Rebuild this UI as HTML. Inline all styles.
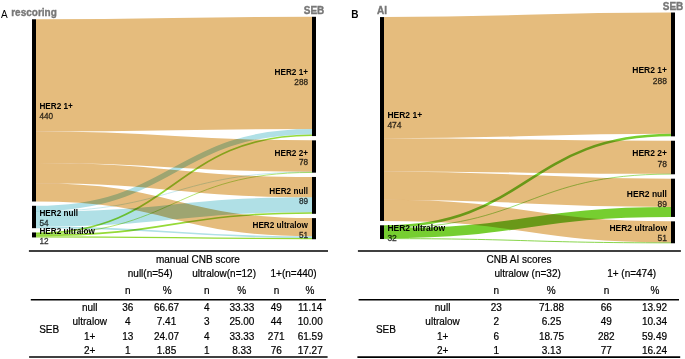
<!DOCTYPE html>
<html><head><meta charset="utf-8"><title>Sankey</title>
<style>
html,body{margin:0;padding:0;background:#fff;}
body{width:685px;height:359px;overflow:hidden;}
svg{display:block;font-family:"Liberation Sans",sans-serif;}
.nm{font-weight:bold;fill:#000;}
.vl{fill:#000;stroke:#000;stroke-width:0.3px;opacity:0.8;}
.tt{font-size:10px;font-weight:bold;fill:#777;stroke:#777;stroke-width:0.35px;}
.pl{font-size:10px;fill:#000;}
.tb{font-size:10px;fill:#000;stroke:#000;stroke-width:0.2px;}
</style></head>
<body>
<svg width="685" height="359" viewBox="0 0 685 359">
<g fill="none">
<path d="M36,75.38C174,75.38 174,72.9 312,72.9" stroke="#E5BC7D" stroke-width="112.25" style="mix-blend-mode:multiply"/>
<path d="M36,147.25C174,147.25 174,156.1 312,156.1" stroke="#E5BC7D" stroke-width="31.48" style="mix-blend-mode:multiply"/>
<path d="M36,173.14C174,173.14 174,187.11 312,187.11" stroke="#E5BC7D" stroke-width="20.3" style="mix-blend-mode:multiply"/>
<path d="M36,192.4C174,192.4 174,227.22 312,227.22" stroke="#E5BC7D" stroke-width="18.22" style="mix-blend-mode:multiply"/>
<path d="M36,208.49C174,208.49 174,131.72 312,131.72" stroke="#B0E0E6" stroke-width="5.38" style="mix-blend-mode:multiply"/>
<path d="M36,211.39C174,211.39 174,172.05 312,172.05" stroke="#B0E0E6" stroke-width="0.7" style="mix-blend-mode:multiply"/>
<path d="M36,219.05C174,219.05 174,204.71 312,204.71" stroke="#B0E0E6" stroke-width="14.91" style="mix-blend-mode:multiply"/>
<path d="M36,227.34C174,227.34 174,237.16 312,237.16" stroke="#B0E0E6" stroke-width="1.66" style="mix-blend-mode:multiply"/>
<path d="M36,233.28C174,233.28 174,135.24 312,135.24" stroke="#96DA37" stroke-width="1.66" style="mix-blend-mode:multiply"/>
<path d="M36,234.32C174,234.32 174,172.46 312,172.46" stroke="#96DA37" stroke-width="0.7" style="mix-blend-mode:multiply"/>
<path d="M36,235.35C174,235.35 174,212.99 312,212.99" stroke="#96DA37" stroke-width="1.66" style="mix-blend-mode:multiply"/>
<path d="M36,236.8C174,236.8 174,238.61 312,238.61" stroke="#96DA37" stroke-width="1.24" style="mix-blend-mode:multiply"/>
</g>
<rect x="32" y="19.26" width="4" height="182.25"/>
<rect x="32" y="205.8" width="4" height="22.37"/>
<rect x="32" y="232.45" width="4" height="4.97"/>
<rect x="312" y="16.78" width="4" height="119.29"/>
<rect x="312" y="140.36" width="4" height="32.31"/>
<rect x="312" y="176.96" width="4" height="36.86"/>
<rect x="312" y="218.11" width="4" height="21.12"/>
<text class="nm" x="39.4" y="109.38" font-size="8.2">HER2 1+</text>
<text class="vl" x="39.4" y="119.28" font-size="8.2">440</text>
<text class="nm" x="39.4" y="215.98" font-size="8.2">HER2 null</text>
<text class="vl" x="39.4" y="225.88" font-size="8.2">54</text>
<text class="nm" x="39.4" y="233.94" font-size="8.2">HER2 ultralow</text>
<text class="vl" x="39.4" y="243.84" font-size="8.2">12</text>
<text class="nm" x="308" y="75.42" font-size="8.2" text-anchor="end">HER2 1+</text>
<text class="vl" x="308" y="85.32" font-size="8.2" text-anchor="end">288</text>
<text class="nm" x="308" y="155.51" font-size="8.2" text-anchor="end">HER2 2+</text>
<text class="vl" x="308" y="165.41" font-size="8.2" text-anchor="end">78</text>
<text class="nm" x="308" y="194.39" font-size="8.2" text-anchor="end">HER2 null</text>
<text class="vl" x="308" y="204.29" font-size="8.2" text-anchor="end">89</text>
<text class="nm" x="308" y="227.67" font-size="8.2" text-anchor="end">HER2 ultralow</text>
<text class="vl" x="308" y="237.57" font-size="8.2" text-anchor="end">51</text>
<text class="tt" x="34" y="16.26" text-anchor="middle">rescoring</text>
<text class="tt" x="314" y="13.78" text-anchor="middle">SEB</text>
<g fill="none">
<path d="M384,77.7C527.5,77.7 527.5,73.15 671,73.15" stroke="#E5BC7D" stroke-width="121.26" style="mix-blend-mode:multiply"/>
<path d="M384,154.89C527.5,154.89 527.5,157.31 671,157.31" stroke="#E5BC7D" stroke-width="33.11" style="mix-blend-mode:multiply"/>
<path d="M384,185.63C527.5,185.63 527.5,192.87 671,192.87" stroke="#E5BC7D" stroke-width="28.38" style="mix-blend-mode:multiply"/>
<path d="M384,210.35C527.5,210.35 527.5,231.88 671,231.88" stroke="#E5BC7D" stroke-width="21.07" style="mix-blend-mode:multiply"/>
<path d="M384,226.57C527.5,226.57 527.5,135.07 671,135.07" stroke="#76CE30" stroke-width="2.58" style="mix-blend-mode:multiply"/>
<path d="M384,228.07C527.5,228.07 527.5,174.08 671,174.08" stroke="#76CE30" stroke-width="0.7" style="mix-blend-mode:multiply"/>
<path d="M384,233.23C527.5,233.23 527.5,212 671,212" stroke="#76CE30" stroke-width="9.89" style="mix-blend-mode:multiply"/>
<path d="M384,238.61C527.5,238.61 527.5,242.84 671,242.84" stroke="#76CE30" stroke-width="0.86" style="mix-blend-mode:multiply"/>
</g>
<rect x="380" y="17.07" width="4" height="203.82"/>
<rect x="380" y="225.28" width="4" height="13.76"/>
<rect x="671" y="12.52" width="4" height="123.84"/>
<rect x="671" y="140.75" width="4" height="33.54"/>
<rect x="671" y="178.68" width="4" height="38.27"/>
<rect x="671" y="221.34" width="4" height="21.93"/>
<text class="nm" x="387.4" y="117.68" font-size="8.5">HER2 1+</text>
<text class="vl" x="387.4" y="128.08" font-size="8.5">474</text>
<text class="nm" x="387.4" y="230.86" font-size="8.5">HER2 ultralow</text>
<text class="vl" x="387.4" y="241.26" font-size="8.5">32</text>
<text class="nm" x="667" y="73.14" font-size="8.5" text-anchor="end">HER2 1+</text>
<text class="vl" x="667" y="83.54" font-size="8.5" text-anchor="end">288</text>
<text class="nm" x="667" y="156.22" font-size="8.5" text-anchor="end">HER2 2+</text>
<text class="vl" x="667" y="166.62" font-size="8.5" text-anchor="end">78</text>
<text class="nm" x="667" y="196.51" font-size="8.5" text-anchor="end">HER2 null</text>
<text class="vl" x="667" y="206.91" font-size="8.5" text-anchor="end">89</text>
<text class="nm" x="667" y="231" font-size="8.5" text-anchor="end">HER2 ultralow</text>
<text class="vl" x="667" y="241.41" font-size="8.5" text-anchor="end">51</text>
<text class="tt" x="382" y="14.07" text-anchor="middle">AI</text>
<text class="tt" x="673" y="9.52" text-anchor="middle">SEB</text>
<text class="pl" x="1" y="18">A</text>
<text class="pl" x="351.2" y="17.8" font-weight="bold" font-size="9.6">B</text>
<g stroke="#000" fill="none">
<line x1="28.9" y1="250.9" x2="328" y2="250.9" stroke-width="1.5"/>
<line x1="30.8" y1="299.8" x2="326" y2="299.8" stroke-width="1.4"/>
<line x1="29.1" y1="357" x2="327.6" y2="357" stroke-width="1.7"/>
<line x1="357.9" y1="250.9" x2="680.9" y2="250.9" stroke-width="1.5"/>
<line x1="358.6" y1="299.8" x2="679" y2="299.8" stroke-width="1.4"/>
<line x1="357.4" y1="357.1" x2="680.2" y2="357.1" stroke-width="1.7"/>
</g>
<text class="tb" x="197.9" y="262.5" text-anchor="middle">manual CNB score</text>
<text class="tb" x="150.15" y="276.6" text-anchor="middle">null(n=54)</text>
<text class="tb" x="224.15" y="276.6" text-anchor="middle">ultralow(n=12)</text>
<text class="tb" x="293.6" y="276.6" text-anchor="middle">1+(n=440)</text>
<text class="tb" x="127.9" y="294.2" text-anchor="middle">n</text>
<text class="tb" x="167.2" y="294.2" text-anchor="middle">%</text>
<text class="tb" x="206.7" y="294.2" text-anchor="middle">n</text>
<text class="tb" x="241.8" y="294.2" text-anchor="middle">%</text>
<text class="tb" x="276.5" y="294.2" text-anchor="middle">n</text>
<text class="tb" x="310" y="294.2" text-anchor="middle">%</text>
<text class="tb" x="49.2" y="333.4" text-anchor="middle">SEB</text>
<text class="tb" x="89.7" y="311.1" text-anchor="middle">null</text>
<text class="tb" x="127.8" y="311.1" text-anchor="middle">36</text>
<text class="tb" x="166.5" y="311.1" text-anchor="middle">66.67</text>
<text class="tb" x="206.7" y="311.1" text-anchor="middle">4</text>
<text class="tb" x="241.9" y="311.1" text-anchor="middle">33.33</text>
<text class="tb" x="276.2" y="311.1" text-anchor="middle">49</text>
<text class="tb" x="310.2" y="311.1" text-anchor="middle">11.14</text>
<text class="tb" x="89.7" y="325.4" text-anchor="middle">ultralow</text>
<text class="tb" x="127.8" y="325.4" text-anchor="middle">4</text>
<text class="tb" x="166.5" y="325.4" text-anchor="middle">7.41</text>
<text class="tb" x="206.7" y="325.4" text-anchor="middle">3</text>
<text class="tb" x="241.9" y="325.4" text-anchor="middle">25.00</text>
<text class="tb" x="276.2" y="325.4" text-anchor="middle">44</text>
<text class="tb" x="310.2" y="325.4" text-anchor="middle">10.00</text>
<text class="tb" x="89.7" y="339.6" text-anchor="middle">1+</text>
<text class="tb" x="127.8" y="339.6" text-anchor="middle">13</text>
<text class="tb" x="166.5" y="339.6" text-anchor="middle">24.07</text>
<text class="tb" x="206.7" y="339.6" text-anchor="middle">4</text>
<text class="tb" x="241.9" y="339.6" text-anchor="middle">33.33</text>
<text class="tb" x="276.2" y="339.6" text-anchor="middle">271</text>
<text class="tb" x="310.2" y="339.6" text-anchor="middle">61.59</text>
<text class="tb" x="89.7" y="353.9" text-anchor="middle">2+</text>
<text class="tb" x="127.8" y="353.9" text-anchor="middle">1</text>
<text class="tb" x="166.5" y="353.9" text-anchor="middle">1.85</text>
<text class="tb" x="206.7" y="353.9" text-anchor="middle">1</text>
<text class="tb" x="241.9" y="353.9" text-anchor="middle">8.33</text>
<text class="tb" x="276.2" y="353.9" text-anchor="middle">76</text>
<text class="tb" x="310.2" y="353.9" text-anchor="middle">17.27</text>
<text class="tb" x="519" y="262.5" text-anchor="middle">CNB AI scores</text>
<text class="tb" x="527.6" y="276.5" text-anchor="middle">ultralow (n=32)</text>
<text class="tb" x="631.6" y="276.5" text-anchor="middle">1+ (n=474)</text>
<text class="tb" x="496.3" y="294.2" text-anchor="middle">n</text>
<text class="tb" x="551.2" y="294.2" text-anchor="middle">%</text>
<text class="tb" x="606.5" y="294.2" text-anchor="middle">n</text>
<text class="tb" x="654.9" y="294.2" text-anchor="middle">%</text>
<text class="tb" x="385.9" y="333.4" text-anchor="middle">SEB</text>
<text class="tb" x="442.6" y="311.1" text-anchor="middle">null</text>
<text class="tb" x="496.3" y="311.1" text-anchor="middle">23</text>
<text class="tb" x="551.5" y="311.1" text-anchor="middle">71.88</text>
<text class="tb" x="606.3" y="311.1" text-anchor="middle">66</text>
<text class="tb" x="654.5" y="311.1" text-anchor="middle">13.92</text>
<text class="tb" x="442.6" y="325.4" text-anchor="middle">ultralow</text>
<text class="tb" x="496.3" y="325.4" text-anchor="middle">2</text>
<text class="tb" x="551.5" y="325.4" text-anchor="middle">6.25</text>
<text class="tb" x="606.3" y="325.4" text-anchor="middle">49</text>
<text class="tb" x="654.5" y="325.4" text-anchor="middle">10.34</text>
<text class="tb" x="442.6" y="339.6" text-anchor="middle">1+</text>
<text class="tb" x="496.3" y="339.6" text-anchor="middle">6</text>
<text class="tb" x="551.5" y="339.6" text-anchor="middle">18.75</text>
<text class="tb" x="606.3" y="339.6" text-anchor="middle">282</text>
<text class="tb" x="654.5" y="339.6" text-anchor="middle">59.49</text>
<text class="tb" x="442.6" y="353.9" text-anchor="middle">2+</text>
<text class="tb" x="496.3" y="353.9" text-anchor="middle">1</text>
<text class="tb" x="551.5" y="353.9" text-anchor="middle">3.13</text>
<text class="tb" x="606.3" y="353.9" text-anchor="middle">77</text>
<text class="tb" x="654.5" y="353.9" text-anchor="middle">16.24</text>
</svg>
</body></html>
